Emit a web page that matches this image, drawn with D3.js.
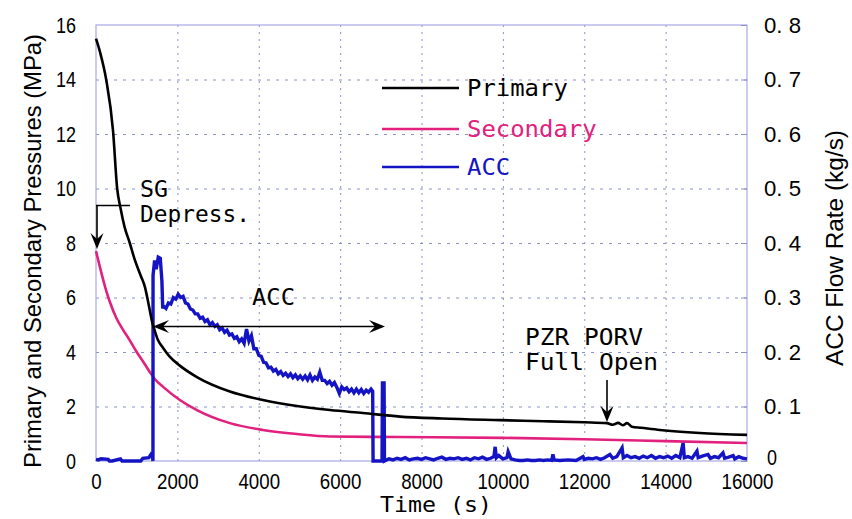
<!DOCTYPE html>
<html>
<head>
<meta charset="utf-8">
<script src="https://cdn.jsdelivr.net/npm/d3@7/dist/d3.min.js"></script>
<style>
  html, body { margin: 0; padding: 0; background: #fff; }
  svg { display: block; }
  .narrow { font-family: "Liberation Sans", Arial, sans-serif; }
  .mono { font-family: "DejaVu Sans Mono", "Liberation Mono", monospace; }
</style>
</head>
<body>
<svg id="chart" width="852" height="519"></svg>
<script>
// ---------------- data ----------------
const xTicks = [0, 2000, 4000, 6000, 8000, 10000, 12000, 14000, 16000];
const yLeftTicks = [0, 2, 4, 6, 8, 10, 12, 14, 16];
const yRightTicks = [0, 0.1, 0.2, 0.3, 0.4, 0.5, 0.6, 0.7, 0.8];
const yRightLabels = ["0", "0. 1", "0. 2", "0. 3", "0. 4", "0. 5", "0. 6", "0. 7", "0. 8"];

// Primary pressure (MPa)
const primaryTime = [0, 100, 250, 420, 520, 600, 700, 830, 950, 1100, 1200, 1300, 1380, 1440, 1520, 1650, 1800, 2060, 2480, 3290, 4100, 4940, 5750, 6560, 7470, 8500, 9930, 11000, 12000, 12560, 12700, 12830, 12950, 13050, 13170, 13400, 13860, 14840, 16000];
const primaryP    = [15.5, 15.0, 14.0, 12.1, 10.0, 9.3, 8.6, 8.0, 7.4, 6.8, 6.4, 5.7, 5.1, 4.8, 4.45, 4.15, 3.85, 3.5, 3.08, 2.55, 2.24, 2.02, 1.87, 1.76, 1.63, 1.56, 1.50, 1.46, 1.42, 1.39, 1.33, 1.40, 1.31, 1.39, 1.26, 1.22, 1.14, 1.03, 0.96];

// Secondary pressure (MPa)
const secondaryTime = [0, 50, 150, 250, 350, 500, 650, 800, 1000, 1200, 1330, 1450, 1650, 2060, 2480, 3290, 4100, 4940, 5750, 7470, 10000, 12000, 14000, 16000];
const secondaryP    = [7.7, 7.4, 6.8, 6.25, 5.8, 5.25, 4.85, 4.5, 4.0, 3.55, 3.25, 3.0, 2.72, 2.24, 1.87, 1.39, 1.14, 0.99, 0.90, 0.88, 0.85, 0.80, 0.73, 0.66];

// ACC flow rate (kg/s)
const accTime = [0, 60, 120, 300, 330, 400, 600, 640, 700, 1100, 1150, 1300, 1350, 1390, 1400, 1402, 1440, 1480, 1530, 1580, 1620, 1640,
  1660, 1720, 1780, 1840, 1900, 1960, 2020, 2080, 2140, 2200, 2260, 2320, 2380, 2440, 2500, 2560, 2620, 2680, 2740, 2800, 2860, 2920, 2980, 3040, 3100, 3160, 3220, 3280, 3340, 3400, 3460, 3520, 3580, 3640, 3700, 3760, 3820, 3880, 3940, 4000, 4060, 4120, 4180, 4240, 4300, 4360, 4420, 4480, 4540, 4600, 4660, 4720, 4780, 4840, 4900, 4960, 5020, 5080, 5140, 5200, 5260, 5320, 5380, 5440, 5500, 5560, 5620, 5680, 5740, 5800, 5860, 5920, 5980, 6040, 6100, 6160, 6220, 6280, 6340, 6400, 6460, 6520, 6580, 6640, 6700, 6760, 6800,
  6810, 7030, 7040, 7080, 7090,
  7200, 7300, 7400, 7500, 7600, 7700, 7800, 7900, 8000, 8100, 8200, 8300, 8400, 8500, 8600, 8700, 8800, 8900, 9000, 9100, 9200, 9300, 9400, 9500, 9600, 9700, 9780, 9810, 9840, 9900, 10000, 10100, 10130, 10200, 10300, 10400, 10500, 10600, 10700, 10800, 10900, 11000, 11100, 11200, 11230, 11260, 11400, 11600, 11800, 11970, 12000, 12100, 12200, 12300, 12400, 12500, 12630, 12700, 12800, 12930, 12960, 13050, 13150, 13250, 13350, 13450, 13550, 13650, 13750, 13850, 13950, 14050, 14150, 14250, 14350, 14430, 14460, 14550, 14650, 14770, 14800, 14900, 15040, 15100, 15200, 15300, 15410, 15450, 15550, 15660, 15700, 15800, 15900, 16000];
const accFlow = [0.003, 0.002, 0.004, 0.003, 0.000, 0.000, 0.004, 0.000, 0.000, 0.000, 0.005, 0.006, 0.012, 0.008, 0.000, 0.340, 0.368, 0.352, 0.374, 0.372, 0.330, 0.280,
  0.284, 0.280, 0.290, 0.288, 0.300, 0.297, 0.306, 0.300, 0.302, 0.290, 0.288, 0.279, 0.277, 0.270, 0.270, 0.262, 0.264, 0.256, 0.259, 0.250, 0.254, 0.247, 0.250, 0.241, 0.244, 0.236, 0.240, 0.231, 0.233, 0.225, 0.228, 0.219, 0.224, 0.216, 0.242, 0.220, 0.230, 0.206, 0.206, 0.194, 0.192, 0.181, 0.180, 0.171, 0.172, 0.165, 0.168, 0.160, 0.164, 0.157, 0.161, 0.155, 0.160, 0.153, 0.158, 0.151, 0.156, 0.150, 0.156, 0.149, 0.158, 0.148, 0.154, 0.150, 0.163, 0.148, 0.148, 0.142, 0.146, 0.139, 0.144, 0.135, 0.124, 0.136, 0.131, 0.134, 0.127, 0.132, 0.125, 0.132, 0.125, 0.131, 0.124, 0.130, 0.126, 0.132, 0.128,
  0.000, 0.000, 0.143, 0.143, 0.000,
  0.004, 0.002, 0.005, 0.003, 0.006, 0.002, 0.004, 0.005, 0.003, 0.006, 0.004, 0.002, 0.005, 0.007, 0.003, 0.005, 0.004, 0.006, 0.003, 0.005, 0.002, 0.006, 0.004, 0.007, 0.003, 0.005, 0.008, 0.026, 0.006, 0.010, 0.004, 0.006, 0.017, 0.004, 0.002, 0.001, 0.001, 0.002, 0.001, 0.001, 0.002, 0.001, 0.002, 0.001, 0.012, 0.002, 0.001, 0.002, 0.001, 0.008, 0.003, 0.005, 0.004, 0.006, 0.003, 0.006, 0.012, 0.005, 0.008, 0.024, 0.006, 0.010, 0.006, 0.008, 0.005, 0.009, 0.006, 0.010, 0.005, 0.008, 0.006, 0.009, 0.005, 0.010, 0.006, 0.033, 0.006, 0.008, 0.005, 0.018, 0.006, 0.009, 0.012, 0.005, 0.008, 0.006, 0.015, 0.005, 0.007, 0.010, 0.004, 0.008, 0.005, 0.004];

const legendNames = ["Primary", "Secondary", "ACC"];
const colors = { Primary: "#000000", Secondary: "#e2207d", ACC: "#1414c4" };

// ---------------- layout ----------------
const W = 852, H = 519;
const margin = { left: 96, top: 25, right: 105, bottom: 58 };
const svg = d3.select("#chart");

const x = d3.scaleLinear().domain([0, 16000]).range([margin.left, W - margin.right]);
const yL = d3.scaleLinear().domain([0, 16]).range([H - margin.bottom, margin.top]);
const yR = d3.scaleLinear().domain([0, 0.8]).range([H - margin.bottom, margin.top]);

const gridColor = "#8a90c4";

// grid
svg.append("g")
  .attr("transform", `translate(0,${H - margin.bottom})`)
  .call(d3.axisBottom(x).tickValues(xTicks.slice(1, -1)).tickSize(-(H - margin.bottom - margin.top)).tickFormat(""))
  .call(g => g.select(".domain").remove())
  .call(g => g.selectAll("line").attr("stroke", gridColor).attr("stroke-width", 1).attr("stroke-dasharray", "2,5"));
svg.append("g")
  .attr("transform", `translate(${margin.left},0)`)
  .call(d3.axisLeft(yL).tickValues(yLeftTicks.slice(1, -1)).tickSize(-(W - margin.right - margin.left)).tickFormat(""))
  .call(g => g.select(".domain").remove())
  .call(g => g.selectAll("line").attr("stroke", gridColor).attr("stroke-width", 1).attr("stroke-dasharray", "3,6"));

// frame
svg.append("rect")
  .attr("x", margin.left).attr("y", margin.top)
  .attr("width", W - margin.right - margin.left).attr("height", H - margin.bottom - margin.top)
  .attr("fill", "none").attr("stroke", "#a8a8e6").attr("stroke-width", 1.2);

// axes
const axL = svg.append("g").attr("class", "narrow")
  .attr("transform", `translate(${margin.left},0)`)
  .call(d3.axisLeft(yL).tickValues(yLeftTicks).tickSize(0).tickPadding(20).tickFormat(d3.format("d")));
axL.select(".domain").remove();
axL.selectAll("text").attr("font-size", 22).attr("fill", "#000")
  .attr("textLength", d => String(d).length * 10).attr("lengthAdjust", "spacingAndGlyphs");

const axB = svg.append("g").attr("class", "narrow")
  .attr("transform", `translate(0,${H - margin.bottom})`)
  .call(d3.axisBottom(x).tickValues(xTicks).tickSize(0).tickPadding(12).tickFormat(d3.format("d")));
axB.select(".domain").remove();
axB.selectAll("text").attr("font-size", 22).attr("fill", "#000")
  .attr("textLength", d => String(d).length * 10.4).attr("lengthAdjust", "spacingAndGlyphs");

const axR = svg.append("g").attr("class", "narrow")
  .attr("transform", `translate(${W - margin.right},0)`)
  .call(d3.axisRight(yR).tickValues(yRightTicks).tickSize(-6).tickPadding(17).tickFormat((d, i) => yRightLabels[i]));
axR.select(".domain").remove();
axR.selectAll("line").attr("stroke", "#8a90c4");
axR.selectAll("text").attr("font-size", 22).attr("fill", "#000").attr("text-anchor", "start")
  .style("white-space", "pre")
  .attr("textLength", d => d === 0 ? 10 : 37).attr("lengthAdjust", "spacingAndGlyphs")
  .attr("x", d => d === 0 ? 20 : 17)
  .attr("dy", d => d === 0 ? "0.15em" : "0.32em");

// titles
svg.append("text").attr("class", "narrow")
  .attr("transform", `translate(41,${(margin.top + H - margin.bottom) / 2 + 8}) rotate(-90)`)
  .attr("text-anchor", "middle").attr("font-size", 24)
  .attr("textLength", 434).attr("lengthAdjust", "spacingAndGlyphs")
  .text("Primary and Secondary Pressures (MPa)");

svg.append("text").attr("class", "narrow")
  .attr("transform", `translate(843,${248}) rotate(-90)`)
  .attr("text-anchor", "middle").attr("font-size", 23)
  .attr("textLength", 236).attr("lengthAdjust", "spacingAndGlyphs")
  .text("ACC Flow Rate (kg/s)");

svg.append("text").attr("class", "mono")
  .attr("x", 380).attr("y", 512).attr("font-size", 22)
  .attr("textLength", 112).attr("lengthAdjust", "spacingAndGlyphs")
  .text("Time (s)");

// lines
const mk = (ts, vs) => ts.map((t, i) => [t, vs[i]]);
const lineL = d3.line().x(d => x(d[0])).y(d => yL(d[1])).curve(d3.curveMonotoneX);
const lineR = d3.line().x(d => x(d[0])).y(d => yR(d[1]));

svg.append("path").datum(mk(secondaryTime, secondaryP))
  .attr("d", lineL).attr("fill", "none").attr("stroke", colors.Secondary).attr("stroke-width", 2.6);
svg.append("path").datum(mk(accTime, accFlow))
  .attr("d", lineR).attr("fill", "none").attr("stroke", colors.ACC).attr("stroke-width", 3.4).attr("stroke-linejoin", "miter");
svg.append("path").datum(mk(primaryTime, primaryP))
  .attr("d", lineL).attr("fill", "none").attr("stroke", colors.Primary).attr("stroke-width", 2.6);

// legend
const lg = svg.append("g");
const legY = [88, 129, 167];
legendNames.forEach((n, i) => {
  lg.append("line").attr("x1", 382).attr("x2", 459).attr("y1", legY[i]).attr("y2", legY[i])
    .attr("stroke", colors[n]).attr("stroke-width", 2.4);
  lg.append("text").attr("class", "mono").attr("x", 467).attr("y", legY[i] + 8)
    .attr("font-size", 23).attr("fill", colors[n])
    .attr("textLength", n.length * 14.4).attr("lengthAdjust", "spacingAndGlyphs")
    .text(n);
});

// annotations
const ann = svg.append("g").attr("stroke", "#000").attr("stroke-width", 1.6).attr("fill", "none");
function arrowHead(tx, ty, dir) {
  const L = 16, Wd = 6.5, notch = 6;
  let p;
  if (dir === "down") p = [[tx, ty], [tx - Wd, ty - L], [tx, ty - L + notch], [tx + Wd, ty - L]];
  if (dir === "left") p = [[tx, ty], [tx + L, ty - Wd], [tx + L - notch, ty], [tx + L, ty + Wd]];
  if (dir === "right") p = [[tx, ty], [tx - L, ty - Wd], [tx - L + notch, ty], [tx - L, ty + Wd]];
  svg.append("path").attr("d", "M" + p.map(q => q.join(",")).join("L") + "Z").attr("fill", "#000");
}
// SG Depress.
ann.append("line").attr("x1", x(0)).attr("x2", 130).attr("y1", 205.5).attr("y2", 205.5);
ann.append("line").attr("x1", x(0) + 1).attr("x2", x(0) + 1).attr("y1", 205.5).attr("y2", 244);
arrowHead(x(0) + 1, 249, "down");
svg.append("text").attr("class", "mono").attr("x", 140).attr("y", 197).attr("font-size", 23).attr("textLength", 28).attr("lengthAdjust", "spacingAndGlyphs").text("SG");
svg.append("text").attr("class", "mono").attr("x", 140).attr("y", 222).attr("font-size", 23).attr("textLength", 110).attr("lengthAdjust", "spacingAndGlyphs").text("Depress.");
// ACC range
ann.append("line").attr("x1", 158).attr("x2", 380).attr("y1", 326.5).attr("y2", 326.5);
arrowHead(153, 326.5, "left");
arrowHead(385, 326.5, "right");
svg.append("text").attr("class", "mono").attr("x", 252).attr("y", 305).attr("font-size", 23).attr("textLength", 43).attr("lengthAdjust", "spacingAndGlyphs").text("ACC");
// PZR PORV
svg.append("text").attr("class", "mono").attr("x", 525).attr("y", 345).attr("font-size", 23).attr("textLength", 118).attr("lengthAdjust", "spacingAndGlyphs").text("PZR PORV");
svg.append("text").attr("class", "mono").attr("x", 525).attr("y", 370).attr("font-size", 23).attr("textLength", 133).attr("lengthAdjust", "spacingAndGlyphs").text("Full Open");
ann.append("line").attr("x1", 607).attr("x2", 607).attr("y1", 380).attr("y2", 416);
arrowHead(607, 422, "down");
</script>
</body>
</html>
